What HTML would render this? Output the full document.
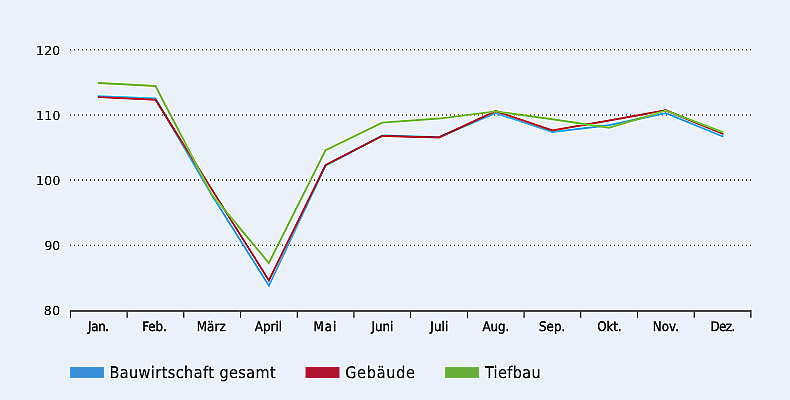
<!DOCTYPE html>
<html><head><meta charset="utf-8"><style>
html,body{margin:0;padding:0;background:#eaf1fa;}
body{width:790px;height:400px;overflow:hidden;}
svg{display:block;}
text{text-rendering:geometricPrecision;font-family:"DejaVu Sans Condensed","DejaVu Sans","Liberation Sans",sans-serif;fill:#111;stroke:#111;stroke-width:0.15px;}
.yl{font-size:12.4px;font-family:"DejaVu Sans","Liberation Sans",sans-serif;stroke-width:0.05px;}
.xl{font-size:13.2px;stroke-width:0.3px;}
.lg{font-size:16px;}
</style></head><body>
<svg width="790" height="400" viewBox="0 0 790 400">
<defs><filter id="sh" x="0" y="0" width="790" height="400" filterUnits="userSpaceOnUse" color-interpolation-filters="sRGB"><feConvolveMatrix order="3" kernelMatrix="-0.1 -0.2 -0.1 -0.2 2.2 -0.2 -0.1 -0.2 -0.1" preserveAlpha="true" edgeMode="duplicate"/></filter></defs>
<g filter="url(#sh)">
<rect width="790" height="400" fill="#eaf1fa"/>
<line x1="70" y1="49.75" x2="751.5" y2="49.75" stroke="#3c3c3c" stroke-width="1.2" stroke-dasharray="1 3" />
<line x1="70" y1="115.0" x2="751.5" y2="115.0" stroke="#3c3c3c" stroke-width="1.2" stroke-dasharray="1 3" />
<line x1="70" y1="180.2" x2="751.5" y2="180.2" stroke="#3c3c3c" stroke-width="1.2" stroke-dasharray="1 3" />
<line x1="70" y1="245.4" x2="751.5" y2="245.4" stroke="#3c3c3c" stroke-width="1.2" stroke-dasharray="1 3" />
<text x="36.12" y="54.60" class="yl" textLength="24.01" lengthAdjust="spacing">120</text>
<text x="36.12" y="119.60" class="yl" textLength="24.18" lengthAdjust="spacing">110</text>
<text x="36.12" y="184.60" class="yl" textLength="24.21" lengthAdjust="spacing">100</text>
<text x="44.51" y="249.60" class="yl" textLength="15.59" lengthAdjust="spacing">90</text>
<text x="43.75" y="314.60" class="yl" textLength="16.28" lengthAdjust="spacing">80</text>
<line x1="69.80000000000001" y1="311.0" x2="751.5" y2="311.0" stroke="#6c6d71" stroke-width="1.8"/>
<line x1="70.40" y1="311.5" x2="70.40" y2="317.8" stroke="#2a2a2a" stroke-width="1.1"/>
<line x1="127.11" y1="311.5" x2="127.11" y2="317.8" stroke="#2a2a2a" stroke-width="1.1"/>
<line x1="183.82" y1="311.5" x2="183.82" y2="317.8" stroke="#2a2a2a" stroke-width="1.1"/>
<line x1="240.53" y1="311.5" x2="240.53" y2="317.8" stroke="#2a2a2a" stroke-width="1.1"/>
<line x1="297.23" y1="311.5" x2="297.23" y2="317.8" stroke="#2a2a2a" stroke-width="1.1"/>
<line x1="353.94" y1="311.5" x2="353.94" y2="317.8" stroke="#2a2a2a" stroke-width="1.1"/>
<line x1="410.65" y1="311.5" x2="410.65" y2="317.8" stroke="#2a2a2a" stroke-width="1.1"/>
<line x1="467.36" y1="311.5" x2="467.36" y2="317.8" stroke="#2a2a2a" stroke-width="1.1"/>
<line x1="524.07" y1="311.5" x2="524.07" y2="317.8" stroke="#2a2a2a" stroke-width="1.1"/>
<line x1="580.77" y1="311.5" x2="580.77" y2="317.8" stroke="#2a2a2a" stroke-width="1.1"/>
<line x1="637.48" y1="311.5" x2="637.48" y2="317.8" stroke="#2a2a2a" stroke-width="1.1"/>
<line x1="694.19" y1="311.5" x2="694.19" y2="317.8" stroke="#2a2a2a" stroke-width="1.1"/>
<line x1="750.90" y1="311.5" x2="750.90" y2="317.8" stroke="#2a2a2a" stroke-width="1.1"/>
<text x="88.12" y="330.70" class="xl" textLength="20.97" lengthAdjust="spacing">Jan.</text>
<text x="142.28" y="330.70" class="xl" textLength="24.48" lengthAdjust="spacing">Feb.</text>
<text x="196.72" y="330.70" class="xl" textLength="28.96" lengthAdjust="spacing">März</text>
<text x="254.74" y="330.70" class="xl" textLength="27.43" lengthAdjust="spacing">April</text>
<text x="313.50" y="330.70" class="xl" textLength="22.80" lengthAdjust="spacing">Mai</text>
<text x="371.61" y="330.70" class="xl" textLength="21.76" lengthAdjust="spacing">Juni</text>
<text x="430.37" y="330.70" class="xl" textLength="17.94" lengthAdjust="spacing">Juli</text>
<text x="482.49" y="330.70" class="xl" textLength="26.80" lengthAdjust="spacing">Aug.</text>
<text x="539.02" y="330.70" class="xl" textLength="26.21" lengthAdjust="spacing">Sep.</text>
<text x="597.20" y="330.70" class="xl" textLength="24.28" lengthAdjust="spacing">Okt.</text>
<text x="652.68" y="330.70" class="xl" textLength="26.26" lengthAdjust="spacing">Nov.</text>
<text x="710.39" y="330.70" class="xl" textLength="24.93" lengthAdjust="spacing">Dez.</text>
<polyline points="98.75,96.15 155.46,98.43 212.17,195.47 268.88,285.62 325.59,165.70 382.30,135.48 439.00,137.10 495.71,113.05 552.42,132.03 609.13,125.27 665.84,113.05 722.55,136.19" fill="none" stroke="#3aa6ee" stroke-width="1.9" stroke-linejoin="miter" stroke-linecap="square"/>
<polyline points="98.75,97.12 155.46,99.79 212.17,190.07 268.88,280.43 325.59,164.92 382.30,135.93 439.00,137.43 495.71,111.10 552.42,130.41 609.13,120.52 665.84,110.32 722.55,133.72" fill="none" stroke="#b8183a" stroke-width="1.9" stroke-linejoin="miter" stroke-linecap="square"/>
<polyline points="98.75,83.02 155.46,86.01 212.17,194.95 268.88,263.00 325.59,150.10 382.30,122.61 439.00,118.57 495.71,111.43 552.42,119.23 609.13,127.74 665.84,110.58 722.55,132.09" fill="none" stroke="#7cbe40" stroke-width="1.9" stroke-linejoin="miter" stroke-linecap="square"/>
<text x="109.38" y="378.40" class="lg" textLength="166.31" lengthAdjust="spacing">Bauwirtschaft gesamt</text>
<text x="345.18" y="378.40" class="lg" textLength="69.75" lengthAdjust="spacing">Gebäude</text>
<text x="484.89" y="378.40" class="lg" textLength="55.82" lengthAdjust="spacing">Tiefbau</text>
</g>

<rect x="69.2" y="366.2" width="35.6" height="12.6" fill="#fff" fill-opacity="0.75"/><rect x="70" y="367" width="34" height="11" fill="#3a8fd8"/>
<rect x="304.7" y="366.2" width="35.6" height="12.6" fill="#fff" fill-opacity="0.75"/><rect x="305.5" y="367" width="34" height="11" fill="#b0112d"/>
<rect x="444.2" y="366.2" width="35.6" height="12.6" fill="#fff" fill-opacity="0.75"/><rect x="445" y="367" width="34" height="11" fill="#67ae3a"/>
</svg>
</body></html>
